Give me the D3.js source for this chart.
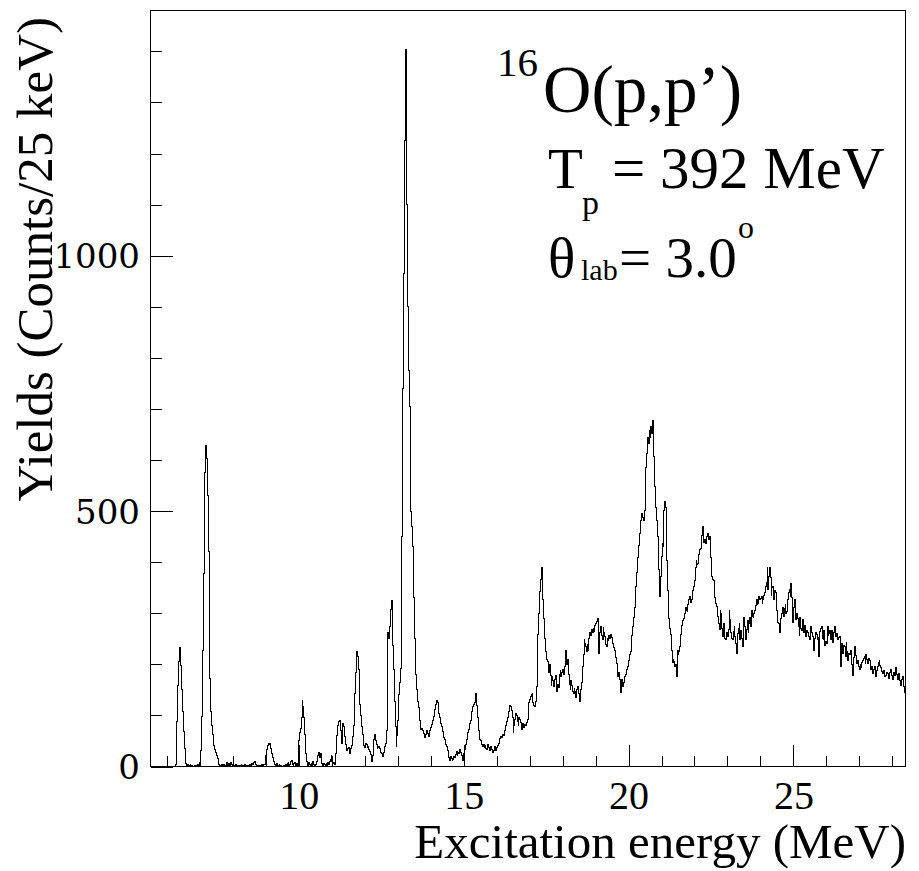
<!DOCTYPE html>
<html><head><meta charset="utf-8">
<script src="https://cdn.jsdelivr.net/npm/d3@7"></script>
<style>body{margin:0;background:#fff} svg{display:block} .sf{font-family:'Liberation Serif','Times New Roman',serif}</style>
</head><body>
<svg id="c" width="919" height="871"></svg>
<script>
const binStart = 5.5;
const binWidth = 0.025;
const counts = [
0,0,0,0,0,0,0,0,0,0, 0,0,0,0,0,0,0,0,0,0, 0,0,0,0,0,0,0,0,0,0, 4,28,88,158,205,232,226,198,150,108,
68,36,14,5,2,4,1,0,3,0, 2,0,0,2,0,1,0,3,2,4, 8,32,98,228,378,492,576,628,602,530, 420,292,172,108,80,62,50,41,33,28,
21,15,9,4,2,0,3,1,0,4, 2,0,7,3,0,5,2,8,3,0, 2,0,1,3,0,0,2,0,1,0, 3,1,0,2,4,1,0,2,0,1,
3,0,2,5,3,7,9,4,2,0, 1,0,2,0,1,3,2,4,4,10, 22,34,42,46,44,45,36,26,18,10, 7,4,2,5,1,0,3,0,2,0,
0,2,0,1,3,0,5,8,2,4, 10,12,3,1,6,8,2,5,1,6, 50,66,74,95,130,118,95,62,26,9, 4,2,7,3,0,6,2,9,4,1,
3,5,10,22,28,18,25,12,5,2, 6,3,1,5,2,7,4,9,14,22, 10,5,8,4,14,26,60,80,88,90, 91,70,46,85,78,58,50,44,32,36,
38,30,26,36,42,58,80,105,142,185, 226,216,190,152,122,100,78,62,50,42, 38,45,44,38,40,33,30,24,10,22, 40,52,62,50,44,36,38,40,36,28,
25,20,19,28,40,45,70,140,262,250, 275,308,325,290,236,190,128,78,40,60, 90,140,165,192,330,450,740,965,1225,1403, 1355,1100,900,775,705,600,500,470,430,330,
250,215,180,150,128,115,90,78,72,75, 70,64,60,56,62,70,64,58,66,70, 76,82,90,98,108,112,122,130,126,118, 104,96,84,78,68,62,56,52,44,40,
32,26,18,12,20,16,12,14,20,17, 24,30,22,27,25,33,28,22,14,12, 26,34,44,52,58,66,72,84,90,98, 108,118,122,126,143,138,120,96,70,52,
50,46,44,40,44,38,42,36,34,44, 38,32,36,40,34,28,32,40,36,32, 38,42,46,50,54,58,56,62,60,64, 70,80,88,96,108,114,120,118,110,96,
66,80,92,104,100,88,80,96,92,86, 72,84,80,76,82,80,86,92,98,126, 132,137,140,143,126,120,117,128,156,205, 258,300,342,366,390,352,326,290,250,225,
215,210,206,184,200,178,158,176,168,156, 170,178,150,146,160,154,180,188,176,184, 190,180,196,210,228,200,210,180,160,150, 168,158,146,142,152,146,136,150,156,142,
132,128,150,165,196,220,248,240,234,226, 238,228,250,262,256,268,262,270,264,276, 280,284,290,268,222,262,274,256,248,272, 262,254,238,234,250,246,256,250,258,252,
244,240,232,228,214,202,188,176,184,170, 144,166,170,156,164,176,180,184,190,196, 208,220,226,236,256,274,292,312,330,352, 380,410,432,456,470,482,496,488,482,502,
528,586,612,645,632,658,645,666,652,678, 606,578,548,508,482,450,386,352,332,372, 412,436,430,502,518,508,404,345,313,290, 270,258,228,204,210,206,195,200,176,228,
220,226,234,258,276,282,285,290,300,312, 306,304,318,326,332,322,326,336,345,352, 364,390,404,396,398,416,424,426,442,452, 469,438,444,436,438,450,456,444,450,418,
410,372,366,364,330,326,320,314,294,280, 268,306,300,270,254,280,262,250,248,262, 254,268,306,288,262,250,248,264,274,254, 240,222,260,270,280,248,266,250,234,258,
292,274,248,268,286,262,280,292,274,306, 294,292,300,306,316,326,318,320,332,326, 328,332,320,326,334,340,352,360,390,346, 372,390,370,334,350,352,326,344,340,326,
306,282,280,262,290,296,300,312,294,310, 318,300,304,326,340,346,332,358,330,282, 312,326,300,288,300,290,274,256,292,270, 266,288,262,270,276,254,266,262,254,250,
248,274,262,254,228,240,250,262,258,248, 252,216,264,270,274,250,248,266,236,244, 240,274,256,260,266,248,266,250,242,262, 274,254,260,256,248,252,254,196,240,232,
222,236,234,216,242,226,208,222,220,228, 216,200,178,214,234,218,214,202,208,196, 190,200,194,204,208,212,215,202,220,210, 202,212,208,196,190,196,182,190,196,184,
176,188,196,204,208,198,194,186,182,188, 182,176,178,184,182,172,176,184,190,178, 170,176,184,178,194,180,170,174,182,168, 158,170,176,162,156,144
];
const xDomain = [5.5, 28.4];
const yDomain = [0, 1480];
const xMajorTicks = [10, 15, 20, 25];
const xMinorTicks = [6,7,8,9,11,12,13,14,16,17,18,19,21,22,23,24,26,27,28];
const yMajorTicks = [0, 500, 1000];
const yMinorTicks = [100,200,300,400,600,700,800,900,1100,1200,1300,1400];
const xTitle = "Excitation energy (MeV)";
const yTitle = "Yields (Counts/25 keV)";

const svg = d3.select("#c");
const L = 150.5, R = 905.5, T = 10.5, B = 766.5;
const x = d3.scaleLinear().domain(xDomain).range([L, R]);
const y = d3.scaleLinear().domain(yDomain).range([B, T]);
const serif = "'Liberation Serif','Times New Roman',serif";

// histogram
const pts = counts.map((c, i) => [binStart + i * binWidth, c]);
pts.push([binStart + counts.length * binWidth, counts[counts.length - 1]]);
const line = d3.line().x(d => x(d[0])).y(d => y(d[1])).curve(d3.curveStepAfter);
svg.append("path").attr("d", line(pts)).attr("fill", "none")
  .attr("stroke", "#000").attr("stroke-width", 1).attr("shape-rendering", "crispEdges");

// axes
function styleAxis(g) {
  g.select(".domain").remove();
  g.selectAll(".tick line").attr("stroke", "#000").attr("shape-rendering", "crispEdges");
}
svg.append("g").attr("transform", `translate(0,${B})`)
  .call(d3.axisBottom(x).tickValues(xMinorTicks).tickSize(-11).tickFormat(""))
  .call(styleAxis);
const gx = svg.append("g").attr("transform", `translate(0,${B})`)
  .call(d3.axisBottom(x).tickValues(xMajorTicks).tickSize(-22).tickPadding(14.5).tickFormat(d3.format("d")))
  .call(styleAxis);
gx.selectAll("text").attr("font-family", serif).attr("font-size", 40).attr("fill", "#000");

svg.append("g").attr("transform", `translate(${L},0)`)
  .call(d3.axisLeft(y).tickValues(yMinorTicks).tickSize(-11).tickFormat(""))
  .call(styleAxis);
const gy = svg.append("g").attr("transform", `translate(${L},0)`)
  .call(d3.axisLeft(y).tickValues(yMajorTicks).tickSize(-22).tickPadding(10.5).tickFormat(d3.format("d")))
  .call(styleAxis);
gy.selectAll("text").attr("font-family", "'DejaVu Serif',serif").attr("font-size", 34)
  .attr("dy", "0.36em").attr("fill", "#000");

// frame
svg.append("rect").attr("x", L).attr("y", T).attr("width", R - L).attr("height", B - T)
  .attr("fill", "none").attr("stroke", "#000").attr("stroke-width", 1).attr("shape-rendering", "crispEdges");

// axis titles
svg.append("text").attr("class", "sf").attr("x", 906).attr("y", 858).attr("text-anchor", "end")
  .attr("font-size", 49).text(xTitle);
svg.append("text").attr("class", "sf").attr("transform", "translate(52,17) rotate(-90)").attr("text-anchor", "end")
  .attr("font-size", 51).text(yTitle);

// annotations
const annotations = [
  {t: "16", x: 497, y: 76, s: 41},
  {t: "O(p,p\u2019)", x: 543, y: 112, s: 67},
  {t: "T", x: 548, y: 188, s: 57},
  {t: "p", x: 582, y: 214, s: 34},
  {t: "= 392 MeV", x: 612, y: 188, s: 59},
  {t: "\u03b8", x: 548, y: 277, s: 57},
  {t: "lab", x: 581, y: 280, s: 30},
  {t: "= 3.0", x: 619, y: 277, s: 57},
  {t: "o", x: 738, y: 238, s: 32}
];
svg.append("g").selectAll("text").data(annotations).join("text")
  .attr("class", "sf").attr("font-family", serif).attr("fill", "#000")
  .attr("x", d => d.x).attr("y", d => d.y).attr("font-size", d => d.s).text(d => d.t);
</script>
</body></html>
